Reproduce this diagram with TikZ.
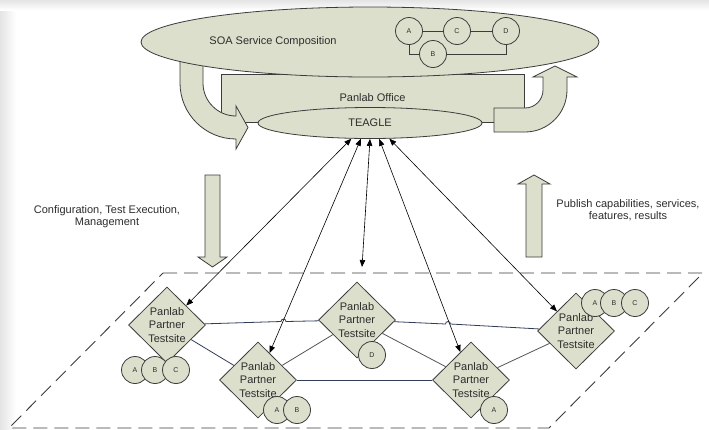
\documentclass[tikz,border=0pt]{standalone}
\usepackage{fontspec}
\setmainfont{Liberation Sans}
\usetikzlibrary{shapes.geometric,arrows.meta,calc}
\definecolor{panfill}{RGB}{220,223,204}
\definecolor{edgegray}{RGB}{60,60,60}
\definecolor{txtgray}{RGB}{45,45,45}
\definecolor{linkblue}{RGB}{48,60,88}
\definecolor{linkgray}{RGB}{85,85,85}
\definecolor{bandgray}{RGB}{228,228,228}
\tikzset{
  shapefill/.style={fill=panfill, draw=edgegray, line width=0.8pt},
  lbl/.style={font=\fontsize{11}{12.5}\selectfont, text=txtgray, inner sep=0pt},
  soaell/.style={ellipse, shapefill, minimum width=458pt, minimum height=70pt, inner sep=0pt},
  officebox/.style={rectangle, shapefill, minimum width=303pt, minimum height=48pt, inner sep=0pt, font=\fontsize{11}{12.5}\selectfont, text=txtgray},
  teagleell/.style={ellipse, shapefill, minimum width=224pt, minimum height=31pt, inner sep=0pt, font=\fontsize{11}{12.5}\selectfont, text=txtgray},
  site/.style={diamond, shapefill, minimum width=77pt, minimum height=76pt, inner sep=0pt},
  sitetext/.style={align=center, font=\fontsize{11}{13.3}\selectfont, text=txtgray, inner sep=0pt},
  svc/.style={circle, shapefill, minimum size=27pt, inner sep=0pt, font=\fontsize{7}{8}\selectfont, text=txtgray},
  svcline/.style={draw=edgegray, line width=0.8pt},
  link/.style={draw=linkblue, line width=0.8pt},
  linkb/.style={draw=linkgray, line width=0.8pt},
  dbl/.style={{Triangle[length=7pt,width=5.5pt]}-{Triangle[length=7pt,width=5.5pt]}, draw=black, line width=0.6pt},
  blockarrow/.style={fill=panfill, draw=edgegray, line width=0.8pt, line join=miter},
  frame/.style={draw=edgegray, line width=0.9pt, dash pattern=on 14pt off 7pt}
}
\begin{document}
\begin{tikzpicture}[x=1pt,y=1pt,yscale=-1]
\useasboundingbox (0,0) rectangle (709,429);
\fill[white] (0,0) rectangle (709,429);
\shade[left color=bandgray, right color=white] (0,0) rectangle (16,429);
\shade[top color=bandgray, bottom color=white] (0,0) rectangle (709,10);

% Panlab office and TEAGLE
\node[officebox] (office) at (372.5,98) {Panlab Office};
\node[teagleell] (teagle) at (370,123) {TEAGLE};

% curved block arrows
\draw[blockarrow] (180,58) -- (180,83) arc[start angle=180, end angle=90, radius=56]
  -- (236,149) -- (248,127.5) -- (236,106) -- (236,116)
  arc[start angle=90, end angle=180, radius=33] -- (203,58) -- cycle;
\draw[blockarrow] (494,108) -- (494,132) -- (525,132) arc[start angle=90, end angle=0, radius=42]
  -- (567,77) -- (577,77) -- (555,66) -- (533,77) -- (543,77) -- (543,90)
  arc[start angle=0, end angle=90, radius=18] -- cycle;

% SOA service composition
\node[soaell] (soa) at (370,42) {};
\node[lbl] (soatext) at (273,42) {SOA Service Composition};
\node[svc] (sa) at (409,31) {A};
\node[svc] (sc) at (457,31) {C};
\node[svc] (sd) at (506,31) {D};
\node[svc] (sb) at (433,54) {B};
\draw[svcline] (sa) -- (sc);
\draw[svcline] (sc) -- (sd);
\draw[svcline] (sa.south) |- (sb.west);
\draw[svcline] (sb.east) -| (sd.south);

% lower frame
\draw[frame] (163,273) -- (703,273) -- (549,428) -- (9,428) -- cycle;

% straight block arrows
\draw[blockarrow] (205,175) -- (220,175) -- (220,257) -- (227,257) -- (212.5,267) -- (198,257) -- (205,257) -- cycle;
\draw[blockarrow] (526,257) -- (542,257) -- (542,184) -- (550,184) -- (534,175) -- (518,184) -- (526,184) -- cycle;

\node[lbl, align=center] (cfg) at (107,216.5) {Configuration, Test Execution,\\Management};
\node[lbl, align=center] (pub) at (628,210) {Publish capabilities, services,\\features, results};

% testsites
\node[site] (d1) at (167,325) {};
\node[site] (d2) at (258,380) {};
\node[site] (d3) at (357,320) {};
\node[site] (d4) at (471,380) {};
\node[site] (d5) at (576,331) {};

\draw[link] (d1) -- (281,321.5) arc[start angle=180, end angle=360, radius=2.5] -- (d3);
\draw[link] (d3) -- (445.5,324) arc[start angle=180, end angle=360, radius=2.5] -- (d5);
\draw[link] (d1) -- (d2);
\draw[link] (d2) -- (d4);
\draw[linkb] (d2) -- (d3);
\draw[linkb] (d3) -- (d4);
\draw[linkb] (d4) -- (d5);

\node[sitetext] (d1t) at (d1) {Panlab\\Partner\\Testsite};
\node[sitetext] (d2t) at (d2) {Panlab\\Partner\\Testsite};
\node[sitetext] (d3t) at (d3) {Panlab\\Partner\\Testsite};
\node[sitetext] (d4t) at (d4) {Panlab\\Partner\\Testsite};
\node[sitetext] (d5t) at (d5) {Panlab\\Partner\\Testsite};

% service circles
\node[svc] (c1a) at (135,370) {A};
\node[svc] (c1b) at (155,370) {B};
\node[svc] (c1c) at (176,370) {C};
\node[svc] (c2a) at (277,410) {A};
\node[svc] (c2b) at (297,410) {B};
\node[svc] (c3d) at (372,355) {D};
\node[svc] (c4a) at (494,410) {A};
\node[svc] (c5a) at (595,303) {A};
\node[svc] (c5b) at (614,303) {B};
\node[svc] (c5c) at (635,303) {C};

% TEAGLE <-> testsites
\coordinate (p3) at (362,267);
\draw[dbl] (teagle.220) -- (d1);
\draw[dbl] (teagle.240) -- (d2);
\draw[dbl] (teagle.270) -- (p3);
\draw[dbl] (teagle.300) -- (d4);
\draw[dbl] (teagle.321) -- (d5);
\end{tikzpicture}
\end{document}
